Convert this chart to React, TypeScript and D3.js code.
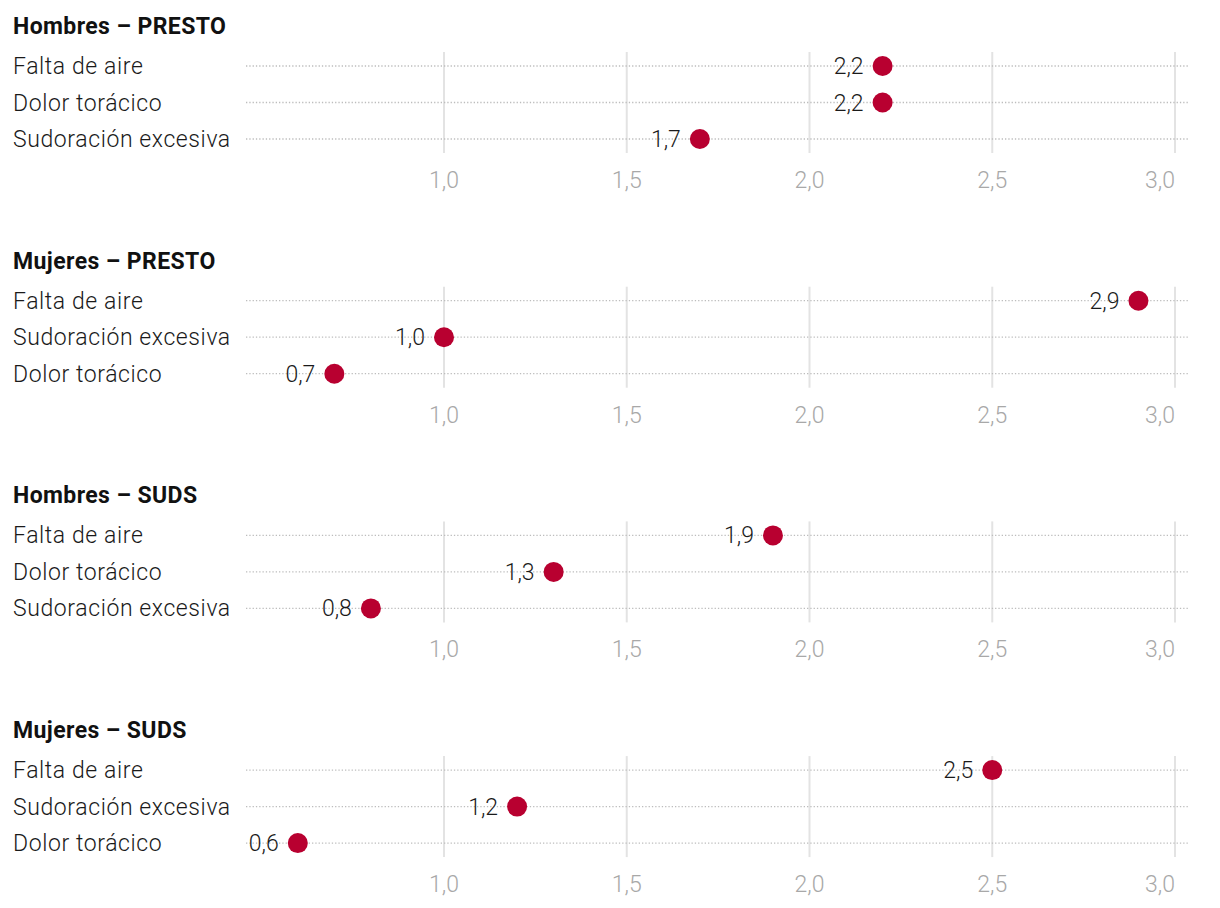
import React from "react";
import * as d3 from "d3";

const panelTitles = ["Hombres – PRESTO", "Mujeres – PRESTO", "Hombres – SUDS", "Mujeres – SUDS"];
const panelLabels = [
  ["Falta de aire", "Dolor torácico", "Sudoración excesiva"],
  ["Falta de aire", "Sudoración excesiva", "Dolor torácico"],
  ["Falta de aire", "Dolor torácico", "Sudoración excesiva"],
  ["Falta de aire", "Sudoración excesiva", "Dolor torácico"],
];
const panelValues = [
  [2.2, 2.2, 1.7],
  [2.9, 1.0, 0.7],
  [1.9, 1.3, 0.8],
  [2.5, 1.2, 0.6],
];
const tickValues = [1.0, 1.5, 2.0, 2.5, 3.0];

const W = 1220;
const H = 908;
const FONT = "Roboto, 'Noto Sans', sans-serif";
const fmt = (v: number) => v.toFixed(1).replace(".", ",");

export default function App() {
  const x = d3.scaleLinear().domain([1, 3]).range([444, 1175]);
  const panelY = d3.scaleLinear().domain([0, 1]).range([66, 300.7]);
  const rowY = d3.scaleLinear().domain([0, 1]).range([0, 36.5]);
  const lineX0 = 246;
  const lineX1 = 1188;
  const lastTick = tickValues[tickValues.length - 1];

  return (
    <svg width={W} height={H} style={{ position: "absolute", left: 0, top: 0, background: "#fff" }}>
      {panelTitles.map((title, p) => {
        const y0 = panelY(p);
        return (
          <g key={p}>
            <text x={13} y={y0 - 32} fontFamily={FONT} fontWeight={700} fontSize={23} letterSpacing={0.4} fill="#111">
              {title}
            </text>
            {tickValues.map((t) => (
              <line key={"g" + t} x1={x(t)} x2={x(t)} y1={y0 - 14} y2={y0 + 87} stroke="#e3e3e3" strokeWidth={2} />
            ))}
            {panelLabels[p].map((lab, i) => (
              <line key={"d" + i} x1={lineX0} x2={lineX1} y1={y0 + rowY(i)} y2={y0 + rowY(i)}
                stroke="#bdbdbd" strokeWidth={1.3} strokeDasharray="1.3 2" />
            ))}
            {tickValues.map((t) => (
              <text key={"t" + t} x={x(t)} y={y0 + 122} textAnchor={t === lastTick ? "end" : "middle"}
                fontFamily={FONT} fontWeight={300} fontSize={23} fill="#a8a8a8">
                {fmt(t)}
              </text>
            ))}
            {panelLabels[p].map((lab, i) => (
              <text key={"l" + i} x={13} y={y0 + rowY(i) + 8} fontFamily={FONT} fontWeight={300} fontSize={23}
                letterSpacing={0.6} fill="#1a1a1a">
                {lab}
              </text>
            ))}
            {panelValues[p].map((v, i) => (
              <g key={"v" + i}>
                <circle cx={x(v)} cy={y0 + rowY(i)} r={10} fill="#b80030" />
                <text x={x(v) - 19} y={y0 + rowY(i) + 8} textAnchor="end" fontFamily={FONT} fontWeight={300}
                  fontSize={23} fill="#1a1a1a">
                  {fmt(v)}
                </text>
              </g>
            ))}
          </g>
        );
      })}
    </svg>
  );
}
